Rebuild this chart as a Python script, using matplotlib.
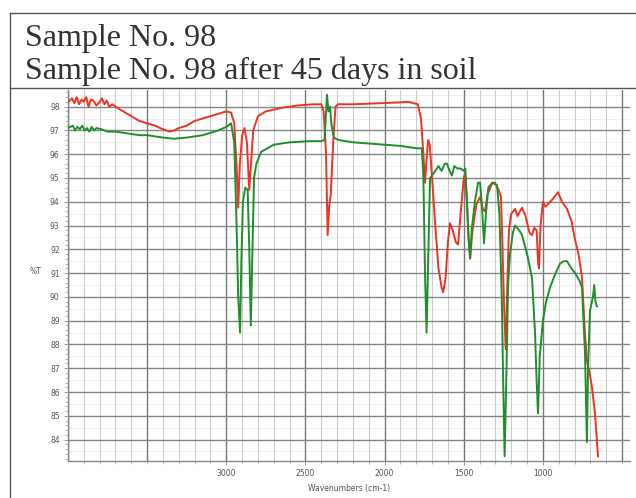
import numpy as np
import matplotlib.pyplot as plt
from matplotlib.lines import Line2D

# IR spectra (wavenumber cm-1, %T)
red_wn = [4000, 3975, 3960, 3945, 3930, 3915, 3900, 3885, 3870, 3855, 3840, 3820, 3800, 3785,
          3770, 3755, 3740, 3720, 3700, 3650, 3600, 3550, 3500, 3450, 3400, 3360, 3330, 3300,
          3250, 3200, 3150, 3100, 3050, 3000, 2970, 2950, 2935, 2925, 2915, 2900, 2885, 2870,
          2855, 2845, 2830, 2800, 2750, 2650, 2550, 2450, 2400, 2385, 2370, 2360, 2350, 2340,
          2325, 2310, 2295, 2200, 2000, 1850, 1790, 1770, 1755, 1745, 1735, 1725, 1715, 1700,
          1680, 1660, 1640, 1630, 1615, 1600, 1587, 1570, 1550, 1536, 1520, 1500, 1492, 1480,
          1470, 1460, 1445, 1420, 1397, 1380, 1366, 1350, 1320, 1303, 1280, 1265, 1255, 1245,
          1235, 1225, 1215, 1200, 1176, 1160, 1145, 1132, 1110, 1085, 1069, 1055, 1040, 1030,
          1025, 1015, 1000, 985, 968, 940, 905, 880, 848, 820, 797, 775, 753, 735, 722, 705,
          690, 670, 652]
red_t = [98.2, 98.35, 98.15, 98.4, 98.1, 98.3, 98.2, 98.4, 98.0, 98.3, 98.25, 98.05, 98.2, 98.35,
         98.1, 98.25, 98.0, 98.1, 98.0, 97.8, 97.6, 97.4, 97.3, 97.2, 97.05, 96.95, 97.0, 97.1,
         97.2, 97.4, 97.5, 97.6, 97.7, 97.8, 97.75, 97.3, 95.5, 93.75, 95.5, 96.8, 97.1, 96.5,
         94.5, 95.5, 97.0, 97.6, 97.8, 97.95, 98.05, 98.1, 98.1, 97.8, 96.0, 92.6, 93.8, 94.3,
         96.5, 98.0, 98.1, 98.1, 98.15, 98.2, 98.1, 97.5, 96.0, 94.8, 95.8, 96.6, 96.4, 95.0,
         93.0, 91.2, 90.4, 90.2, 90.8, 92.3, 93.1, 92.8, 92.3, 92.2, 93.5, 95.0, 95.2, 94.0,
         92.5, 91.6, 92.8, 93.9, 94.2, 93.7, 93.6, 94.3, 94.8, 94.8, 94.5, 94.2, 92.0, 89.5,
         87.8, 90.5, 92.8, 93.5, 93.7, 93.4, 93.6, 93.75, 93.4, 92.7, 92.6, 92.9, 92.8, 91.4,
         91.2, 93.0, 94.0, 93.8, 93.9, 94.1, 94.4, 94.0, 93.7, 93.2, 92.4, 91.8, 90.8, 88.5,
         87.3, 86.8, 86.2, 85.0, 83.3]

green_wn = [4000, 3970, 3955, 3940, 3925, 3910, 3895, 3880, 3865, 3850, 3835, 3820, 3790, 3750,
            3700, 3650, 3600, 3550, 3500, 3450, 3400, 3330, 3250, 3150, 3050, 3000, 2970, 2950,
            2935, 2925, 2913, 2905, 2895, 2880, 2865, 2855, 2845, 2835, 2825, 2810, 2780, 2700,
            2600, 2470, 2400, 2380, 2372, 2364, 2355, 2345, 2335, 2320, 2294, 2200, 2100, 2000,
            1900, 1800, 1765, 1755, 1745, 1735, 1725, 1713, 1690, 1660, 1640, 1620, 1606, 1590,
            1575, 1560, 1540, 1520, 1500, 1490, 1480, 1470, 1460, 1450, 1430, 1410, 1397, 1385,
            1372, 1360, 1345, 1320, 1290, 1275, 1260, 1250, 1242, 1230, 1220, 1208, 1190, 1176,
            1150, 1132, 1100, 1069, 1050, 1040, 1031, 1020, 1000, 980, 955, 920, 892, 870, 848,
            820, 797, 770, 753, 740, 734, 726, 722, 715, 703, 684, 676, 668, 659]
green_t = [97.1, 97.2, 97.0, 97.15, 97.05, 97.2, 97.0, 97.1, 96.95, 97.15, 97.0, 97.1, 97.05, 96.95,
           96.95, 96.9, 96.85, 96.8, 96.8, 96.75, 96.7, 96.65, 96.7, 96.8, 97.0, 97.15, 97.3, 96.5,
           93.0, 90.0, 88.5, 91.5, 94.0, 94.6, 94.5, 92.0, 88.8, 92.0, 95.0, 95.6, 96.1, 96.4,
           96.5, 96.55, 96.55, 96.6, 97.5, 98.5, 97.8, 98.0, 97.2, 96.7, 96.6, 96.5, 96.45, 96.4,
           96.35, 96.25, 96.25, 95.0, 91.0, 88.5, 91.5, 95.0, 95.2, 95.5, 95.3, 95.6, 95.6, 95.3,
           95.1, 95.5, 95.4, 95.4, 95.3, 95.4, 94.0, 92.5, 91.65, 92.8, 94.0, 94.8, 94.8, 93.8,
           92.25, 93.5, 94.6, 94.8, 94.7, 93.5, 90.0, 86.0, 83.3, 87.0, 90.5, 91.8, 92.7, 93.0,
           92.8, 92.6, 91.8, 90.8, 88.5, 86.5, 85.1, 87.5, 89.0, 89.8, 90.4, 91.0, 91.4, 91.5, 91.5,
           91.2, 91.0, 90.7, 90.4, 88.5, 87.6, 85.0, 83.9, 87.0, 89.4, 90.0, 90.5, 89.8, 89.6]

y_ticks = list(range(84, 99))
x_ticks = [3000, 2500, 2000, 1500, 1000]

fig = plt.figure(figsize=(6.36, 4.98), dpi=100)
W, H = 636, 498

# frame around the whole panel, and the title box
frame_kw = dict(color='#555555', linewidth=1.0, transform=fig.transFigure)
fig.add_artist(Line2D([10 / W, 1], [1 - 13 / H, 1 - 13 / H], **frame_kw))
fig.add_artist(Line2D([10 / W, 1], [1 - 88 / H, 1 - 88 / H], **frame_kw))
fig.add_artist(Line2D([10 / W, 10 / W], [1 - 13 / H, 0], **frame_kw))

fig.text(25 / W, 1 - 46 / H, "Sample No. 98", family='Liberation Serif',
         fontsize=23, color='#333333', va='baseline')
fig.text(25 / W, 1 - 79 / H, "Sample No. 98 after 45 days in soil", family='Liberation Serif',
         fontsize=23, color='#333333', va='baseline')

ax = fig.add_axes([68 / W, 37 / H, (630 - 68) / W, (461 - 90) / H])

# chart-paper grid
for wn in range(4000, 400, -100):
    if wn % 500 == 0:
        ax.axvline(wn, color='#777777', linewidth=1.0, zorder=1)
    else:
        ax.axvline(wn, color='#cccccc', linewidth=0.8, zorder=1)
for t in y_ticks:
    ax.axhline(t, color='#858585', linewidth=1.0, zorder=1)
for t in np.arange(83.5, 98.6, 1.0):
    ax.axhline(t, color='#ececec', linewidth=0.6, zorder=0.5)

ax.plot(red_wn, red_t, color='#ee3322', linewidth=1.4, zorder=3)
ax.plot(green_wn, green_t, color='#1f8f2c', linewidth=1.4, zorder=3)

ax.set_xlim(4000, 450)
ax.set_ylim(83.1, 98.7)

ax.set_xticks(x_ticks)
ax.set_xticklabels([str(v) for v in x_ticks])
ax.set_yticks(y_ticks)
ax.set_yticklabels([str(v) for v in y_ticks])
ax.set_yticks(np.arange(83.2, 98.7, 0.2), minor=True)
ax.set_xticks(range(3900, 450, -100), minor=True)
ax.tick_params(axis='both', which='major', labelsize=5.5, labelcolor='#555555',
               color='#888888', length=3, width=0.6, pad=3)
ax.tick_params(axis='both', which='minor', color='#999999', length=2, width=0.5)

for side in ['top', 'right']:
    ax.spines[side].set_visible(False)
for side in ['left', 'bottom']:
    ax.spines[side].set_color('#888888')
    ax.spines[side].set_linewidth(1.0)

ax.set_xlabel("Wavenumbers (cm-1)", fontsize=5.5, color='#555555', labelpad=4)
fig.text(36 / W, 1 - 271 / H, "%T", fontsize=5.5, color='#555555', ha='center', va='center')

fig.savefig("out.png", dpi=100)
